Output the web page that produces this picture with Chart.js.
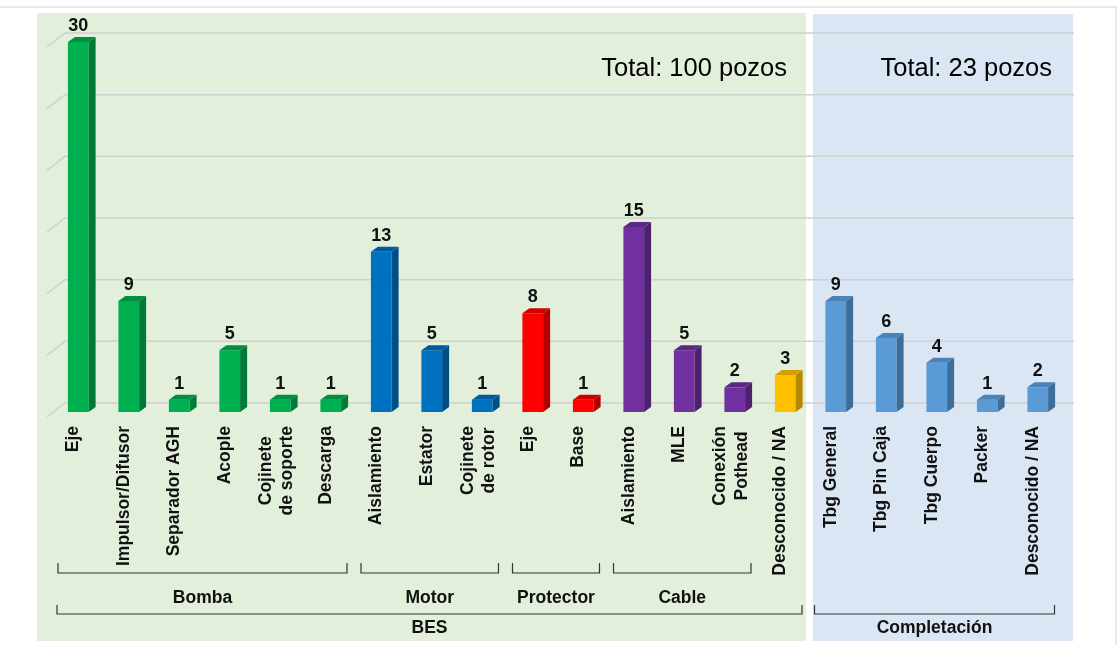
<!DOCTYPE html>
<html lang="es">
<head>
<meta charset="utf-8">
<title>Fallas por componente</title>
<script src="https://cdn.jsdelivr.net/npm/chart.js@4.4.1/dist/chart.umd.min.js"></script>
<style>
  html, body { margin: 0; padding: 0; background: #fff; }
  #contenedor { position: relative; width: 1118px; height: 645px; }
</style>
</head>
<body>
<div id="contenedor"><canvas id="grafico"></canvas></div>
<script>
// Componentes (etiquetas del eje X); los arreglos son etiquetas de dos líneas
const componentes = [
  'Eje', 'Impulsor/Difusor', 'Separador AGH', 'Acople', ['Cojinete', 'de soporte'], 'Descarga',
  'Aislamiento', 'Estator', ['Cojinete', 'de rotor'],
  'Eje', 'Base',
  'Aislamiento', 'MLE', ['Conexión', 'Pothead'],
  'Desconocido / NA',
  'Tbg General', 'Tbg Pin Caja', 'Tbg Cuerpo', 'Packer', 'Desconocido / NA'
];

// Número de pozos con falla en cada componente
const pozos = [30, 9, 1, 5, 1, 1, 13, 5, 1, 8, 1, 15, 5, 2, 3, 9, 6, 4, 1, 2];

// Subsistema de cada barra (define el color)
const subsistema = [
  'Bomba', 'Bomba', 'Bomba', 'Bomba', 'Bomba', 'Bomba',
  'Motor', 'Motor', 'Motor',
  'Protector', 'Protector',
  'Cable', 'Cable', 'Cable',
  'NA',
  'Completacion', 'Completacion', 'Completacion', 'Completacion', 'Completacion'
];

// Llaves bajo el eje: [nombre, primera barra, última barra]
const llavesNivel1 = [['Bomba', 0, 5], ['Motor', 6, 8], ['Protector', 9, 10], ['Cable', 11, 13]];
const llavesNivel2 = [['BES', 0, 14], ['Completación', 15, 19]];

// Totales de cada panel
const totales = ['Total: 100 pozos', 'Total: 23 pozos'];

// Líneas de la rejilla
const marcasY = [0, 5, 10, 15, 20, 25, 30];

// colores: cara frontal, lateral y superior
const colores = {
  Bomba:        { frente: '#00B050', lado: '#007A37', tapa: '#008E40' },
  Motor:        { frente: '#0070C0', lado: '#004E86', tapa: '#005C9E' },
  Protector:    { frente: '#FF0000', lado: '#B50000', tapa: '#D00000' },
  Cable:        { frente: '#7030A0', lado: '#4D2070', tapa: '#5A2784' },
  NA:           { frente: '#FFC000', lado: '#B58800', tapa: '#D4A000' },
  Completacion: { frente: '#5B9BD5', lado: '#3D6E9A', tapa: '#4A83B8' }
};

const PROF_X = 7;      // profundidad horizontal de las barras 3D
const PROF_Y = 5;      // profundidad vertical
const REJILLA_DY = 9;  // la rejilla está en el plano del fondo
const FUENTE = 'Arial, "Liberation Sans", sans-serif';

function limites(x, i) {
  const c = x.getPixelForValue(i);
  const medio = (x.getPixelForValue(1) - x.getPixelForValue(0)) / 2;
  return [c - medio, c + medio];
}

// fondo blanco, marco y paneles de color
const pluginFondo = {
  id: 'fondo',
  beforeDraw(chart) {
    const { ctx, chartArea, scales: { x } } = chart;
    const corte = limites(x, 14)[1];
    const arriba = chartArea.top - 29;
    const abajo = 641;
    ctx.save();
    ctx.fillStyle = '#fff';
    ctx.fillRect(0, 0, chart.width, chart.height);

    ctx.strokeStyle = '#e2e2e2';
    ctx.lineWidth = 1.5;
    ctx.beginPath();
    ctx.moveTo(0, 7);
    ctx.lineTo(1116, 7);
    ctx.lineTo(1116, chart.height);
    ctx.stroke();

    ctx.fillStyle = '#E2EFDA';
    ctx.fillRect(chartArea.left - 16, arriba, corte - 4.5 - (chartArea.left - 16), abajo - arriba);
    ctx.fillStyle = '#DAE6F4';
    ctx.fillRect(corte + 2.5, arriba + 1, chartArea.right + 10 - (corte + 2.5), abajo - arriba - 1);
    ctx.restore();
  },
  beforeDatasetsDraw(chart) {
    // rejilla con el pequeño tramo inclinado del piso 3D
    const { ctx, chartArea, scales: { y } } = chart;
    ctx.save();
    ctx.strokeStyle = '#d0d0d0';
    ctx.lineWidth = 1.5;
    marcasY.forEach(v => {
      const py = y.getPixelForValue(v) - REJILLA_DY;
      ctx.beginPath();
      ctx.moveTo(chartArea.left - 6, py + 14);
      ctx.lineTo(chartArea.left + 12, py);
      ctx.lineTo(chartArea.right + 11, py);
      ctx.stroke();
    });
    ctx.restore();
  }
};

// caras lateral y superior de cada barra, y el valor encima
const pluginBarras3D = {
  id: 'barras3d',
  afterDatasetsDraw(chart) {
    const { ctx } = chart;
    const meta = chart.getDatasetMeta(0);
    ctx.save();
    meta.data.forEach((barra, i) => {
      const c = colores[subsistema[i]];
      const izq = barra.x - barra.width / 2;
      const der = barra.x + barra.width / 2;
      const tope = barra.y;
      const base = barra.base;

      ctx.fillStyle = c.lado;
      ctx.beginPath();
      ctx.moveTo(der, tope);
      ctx.lineTo(der + PROF_X, tope - PROF_Y);
      ctx.lineTo(der + PROF_X, base - PROF_Y);
      ctx.lineTo(der, base);
      ctx.closePath();
      ctx.fill();

      ctx.fillStyle = c.tapa;
      ctx.beginPath();
      ctx.moveTo(izq, tope);
      ctx.lineTo(izq + PROF_X, tope - PROF_Y);
      ctx.lineTo(der + PROF_X, tope - PROF_Y);
      ctx.lineTo(der, tope);
      ctx.closePath();
      ctx.fill();

      ctx.fillStyle = '#111';
      ctx.font = 'bold 18px ' + FUENTE;
      ctx.textAlign = 'center';
      ctx.textBaseline = 'alphabetic';
      ctx.fillText(String(pozos[i]), barra.x, tope - 11);
    });
    ctx.restore();
  }
};

// etiquetas verticales, llaves de agrupación y totales
const pluginEtiquetas = {
  id: 'etiquetas',
  afterDraw(chart) {
    const { ctx, chartArea, scales: { x } } = chart;
    const fondo = chartArea.bottom;
    ctx.save();
    ctx.fillStyle = '#111';
    ctx.font = 'bold 17.5px ' + FUENTE;

    componentes.forEach((et, i) => {
      const lineas = Array.isArray(et) ? et : [et];
      const n = lineas.length;
      const cx = x.getPixelForValue(i);
      const anchoMax = Math.max(...lineas.map(l => ctx.measureText(l).width));
      const yCentro = fondo + 14 + anchoMax / 2;
      lineas.forEach((l, k) => {
        ctx.save();
        ctx.translate(cx + (k - (n - 1) / 2) * 21.5 + (n - 1) * 1.25, yCentro);
        ctx.rotate(-Math.PI / 2);
        ctx.textAlign = 'center';
        ctx.textBaseline = 'alphabetic';
        ctx.fillText(l, 0, 0);
        ctx.restore();
      });
    });

    ctx.strokeStyle = '#333';
    ctx.lineWidth = 1.2;
    const llave = (nombre, desde, hasta, ySup, yInf, yTexto, mIzq, mDer) => {
      const x0 = limites(x, desde)[0] + mIzq;
      const x1 = limites(x, hasta)[1] - mDer;
      ctx.beginPath();
      ctx.moveTo(x0, ySup);
      ctx.lineTo(x0, yInf);
      ctx.lineTo(x1, yInf);
      ctx.lineTo(x1, ySup);
      ctx.stroke();
      ctx.textAlign = 'center';
      ctx.fillText(nombre, (x0 + x1) / 2, yTexto);
    };
    llavesNivel1.forEach(([nom, a, b]) => llave(nom, a, b, fondo + 151, fondo + 161, fondo + 191, 5, 9));
    llavesNivel2.forEach(([nom, a, b]) => llave(nom, a, b, fondo + 193, fondo + 202, fondo + 221, 4, 8.5));

    // totales en la esquina superior derecha de cada panel
    const corte = limites(x, 14)[1];
    ctx.font = '25.5px ' + FUENTE;
    ctx.textAlign = 'right';
    ctx.fillStyle = '#000';
    ctx.fillText(totales[0], corte - 23.5, chartArea.top + 34);
    ctx.fillText(totales[1], chartArea.right - 11, chartArea.top + 34);
    ctx.restore();
  }
};

const ctxGrafico = document.getElementById('grafico').getContext('2d');
new Chart(ctxGrafico, {
  type: 'bar',
  data: {
    labels: componentes,
    datasets: [{
      data: pozos,
      backgroundColor: subsistema.map(s => colores[s].frente),
      borderWidth: 0,
      barPercentage: 0.41,
      categoryPercentage: 1
    }]
  },
  options: {
    responsive: true,
    maintainAspectRatio: false,
    animation: false,
    layout: { padding: { left: 53, right: 55, top: 42, bottom: 233 } },
    plugins: { legend: { display: false }, tooltip: { enabled: false } },
    scales: {
      x: { display: false },
      y: { display: false, min: 0, max: 30 }
    }
  },
  plugins: [pluginFondo, pluginBarras3D, pluginEtiquetas]
});
</script>
</body>
</html>
